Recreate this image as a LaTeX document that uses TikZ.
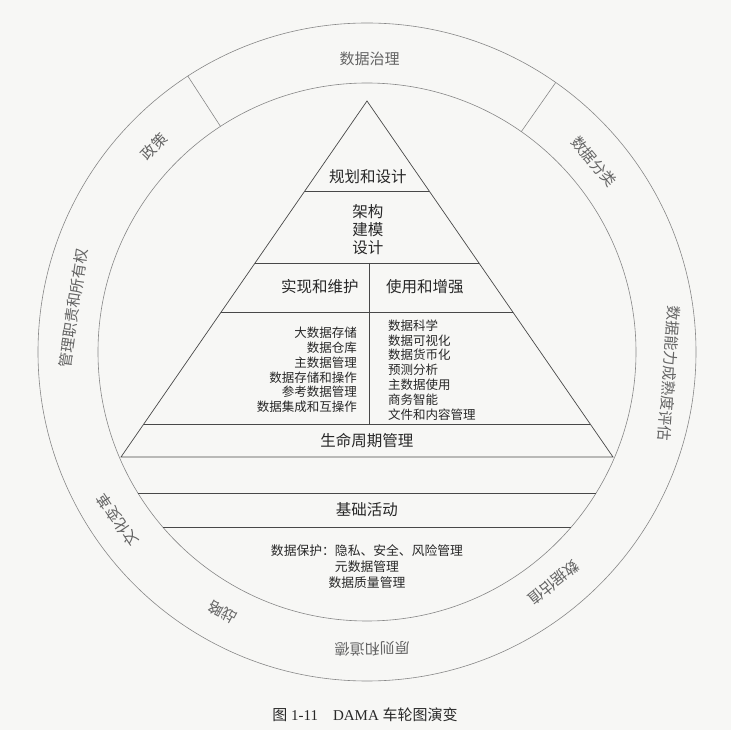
\documentclass[tikz,border=0pt]{standalone}
\usepackage{fontspec}
\setmainfont{Liberation Serif}
\newfontfamily\cjk{Noto Sans CJK SC}
\usetikzlibrary{calc}
\definecolor{paper}{RGB}{247,247,245}
\definecolor{ink}{RGB}{40,40,40}
\definecolor{rim}{RGB}{135,135,135}
\definecolor{ringink}{RGB}{100,100,100}
\tikzset{
  rimline/.style={draw=rim, line width=0.6pt},
  pyrline/.style={draw=ink!85, line width=0.7pt},
  ringlabel/.style={font=\cjk\fontsize{15}{18}\selectfont, text=ringink, inner sep=0pt},
  layer/.style={font=\cjk\fontsize{15.5}{18}\selectfont, text=ink, inner sep=0pt, align=center},
  items/.style={font=\cjk\fontsize{12.5}{14.8}\selectfont, text=ink, inner sep=0pt}
}

\begin{document}
\begin{tikzpicture}[x=1pt, y=1pt]
  \fill[paper] (-367,-378) rectangle (364,352);
  \useasboundingbox (-367,-378) rectangle (364,352);

  % wheel
  \coordinate (hub) at (0,0);
  \draw[rimline] (hub) circle (329);
  \draw[rimline] (hub) circle (269);
  \foreach \ang in {123, 55}
    \draw[rimline] (\ang:269) -- (\ang:329);

  % outer ring
  \foreach \ang/\rad/\txt/\name in {89.5/293/数据治理/governance, 136/296/政策/policy,
      40/296/数据分类/classify, -4/303/数据能力成熟度评估/maturity, -51/297/数据估值/valuation,
      -89/297/原则和道德/ethics, -119/298/战略/strategy, 214/301/文化变革/culture,
      171.5/297/管理职责和所有权/stewardship}
    \node[ringlabel, rotate=\ang-90] (\name) at (\ang:\rad) {\txt};

  % pyramid
  \coordinate (apex) at (0,251);
  \coordinate (bl) at (-246,-105);
  \coordinate (br) at (246,-105);
  \draw[pyrline] (apex) -- (bl) -- (br) -- cycle;
  \foreach \y in {161, 89, 40, -72}
    \draw[pyrline] ($(apex)!{(251-\y)/356}!(bl)$) -- ($(apex)!{(251-\y)/356}!(br)$);
  \draw[pyrline] (2,89) -- (2,-72);
  \foreach \a in {31.6, 40.6}
    \draw[pyrline] (180+\a:269) -- (-\a:269);

  \node[layer] (planning) at (1,175) {规划和设计};
  \node[layer] (design) at (1,122) {架构\\建模\\设计};
  \node[layer] (build) at (-47,65) {实现和维护};
  \node[layer] (use) at (58,65) {使用和增强};
  \node[items, align=right, anchor=east] (buildlist) at (-10,-18)
    {大数据存储\\数据仓库\\主数据管理\\数据存储和操作\\参考数据管理\\数据集成和互操作};
  \node[items, align=left, anchor=west] (uselist) at (21,-18)
    {数据科学\\数据可视化\\数据货币化\\预测分析\\主数据使用\\商务智能\\文件和内容管理};
  \node[layer] (lifecycle) at (0,-89) {生命周期管理};
  \node[layer] (basics) at (0,-158) {基础活动};
  \node[items, align=center, font=\cjk\fontsize{12.8}{16}\selectfont] (basiclist) at (0,-215)
    {数据保护：隐私、安全、风险管理\\元数据管理\\数据质量管理};

  % caption
  \node[inner sep=0pt, text=ink, font=\fontsize{15}{18}\selectfont] (caption) at (-2,-363)
    {{\cjk 图} 1-11\quad DAMA {\cjk 车轮图演变}};
\end{tikzpicture}
\end{document}
